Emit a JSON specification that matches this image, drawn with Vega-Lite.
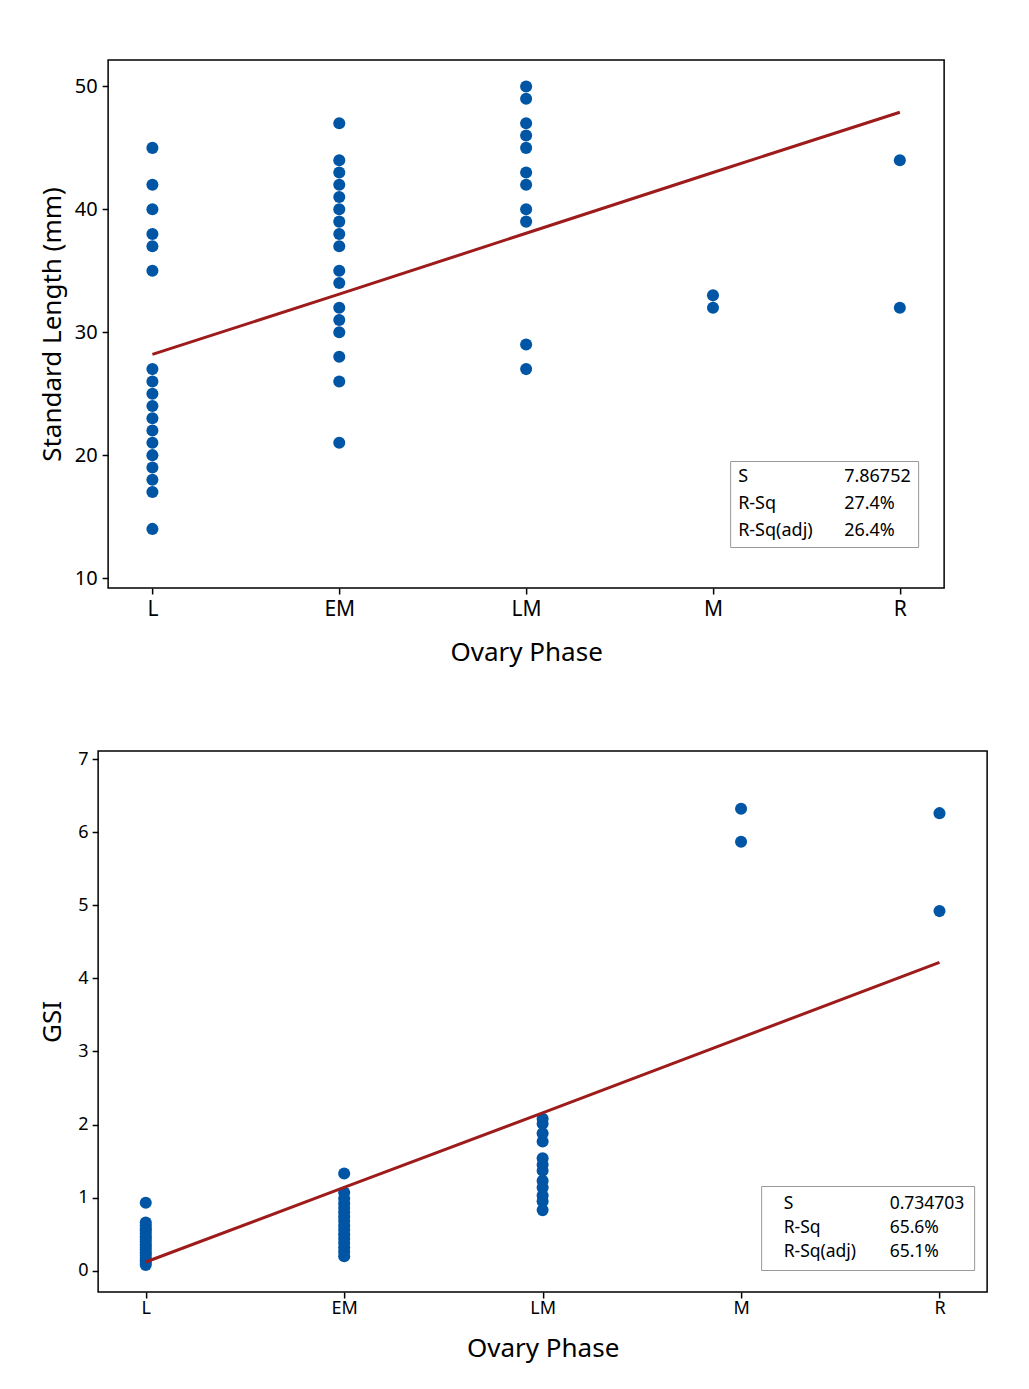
{
  "$schema": "https://vega.github.io/schema/vega-lite/v6.json",
  "padding": {"left": 38, "top": 59, "right": 5, "bottom": 5},
  "background": "white",
  "spacing": 83,
  "center": true,
  "bounds": "full",
  "config": {
    "font": "Noto Sans",
    "view": {"stroke": "black", "strokeWidth": 1.5},
    "axis": {"grid": false, "domain": false, "tickColor": "black", "tickWidth": 1.5, "tickSize": 6, "labelColor": "black", "titleColor": "black", "labelFont": "Noto Sans", "titleFont": "Noto Sans", "titleFontWeight": "normal", "titleFontSize": 26},
    "legend": {"labelFont": "Noto Sans", "labelColor": "black"}
  },
  "resolve": {"scale": {"shape": "independent"}, "legend": {"shape": "independent"}},
  "datasets": {
    "sl_points": [
      {"phase": "L", "sl": 45}, {"phase": "L", "sl": 42}, {"phase": "L", "sl": 40}, {"phase": "L", "sl": 38}, {"phase": "L", "sl": 37}, {"phase": "L", "sl": 35},
      {"phase": "L", "sl": 27}, {"phase": "L", "sl": 26}, {"phase": "L", "sl": 25}, {"phase": "L", "sl": 24}, {"phase": "L", "sl": 23}, {"phase": "L", "sl": 22},
      {"phase": "L", "sl": 21}, {"phase": "L", "sl": 20}, {"phase": "L", "sl": 19}, {"phase": "L", "sl": 18}, {"phase": "L", "sl": 17}, {"phase": "L", "sl": 14},
      {"phase": "EM", "sl": 47}, {"phase": "EM", "sl": 44}, {"phase": "EM", "sl": 43}, {"phase": "EM", "sl": 42}, {"phase": "EM", "sl": 41}, {"phase": "EM", "sl": 40},
      {"phase": "EM", "sl": 39}, {"phase": "EM", "sl": 38}, {"phase": "EM", "sl": 37}, {"phase": "EM", "sl": 35}, {"phase": "EM", "sl": 34}, {"phase": "EM", "sl": 32},
      {"phase": "EM", "sl": 31}, {"phase": "EM", "sl": 30}, {"phase": "EM", "sl": 28}, {"phase": "EM", "sl": 26}, {"phase": "EM", "sl": 21},
      {"phase": "LM", "sl": 50}, {"phase": "LM", "sl": 49}, {"phase": "LM", "sl": 47}, {"phase": "LM", "sl": 46}, {"phase": "LM", "sl": 45}, {"phase": "LM", "sl": 43},
      {"phase": "LM", "sl": 42}, {"phase": "LM", "sl": 40}, {"phase": "LM", "sl": 39}, {"phase": "LM", "sl": 29}, {"phase": "LM", "sl": 27},
      {"phase": "M", "sl": 33}, {"phase": "M", "sl": 32},
      {"phase": "R", "sl": 44}, {"phase": "R", "sl": 32}
    ],
    "sl_fit": [
      {"phase": "L", "fit": 28.2}, {"phase": "EM", "fit": 33.1}, {"phase": "LM", "fit": 38.05}, {"phase": "M", "fit": 43.0}, {"phase": "R", "fit": 47.9}
    ],
    "sl_stats": [
      {"item": "S"}, {"item": "R-Sq"}, {"item": "R-Sq(adj)"}, {"item": "7.86752"}, {"item": "27.4%"}, {"item": "26.4%"}
    ],
    "gsi_points": [
      {"phase": "L", "gsi": 0.93}, {"phase": "L", "gsi": 0.66}, {"phase": "L", "gsi": 0.62}, {"phase": "L", "gsi": 0.58}, {"phase": "L", "gsi": 0.55}, {"phase": "L", "gsi": 0.51},
      {"phase": "L", "gsi": 0.47}, {"phase": "L", "gsi": 0.44}, {"phase": "L", "gsi": 0.40}, {"phase": "L", "gsi": 0.36}, {"phase": "L", "gsi": 0.33}, {"phase": "L", "gsi": 0.29},
      {"phase": "L", "gsi": 0.25}, {"phase": "L", "gsi": 0.22}, {"phase": "L", "gsi": 0.18}, {"phase": "L", "gsi": 0.14}, {"phase": "L", "gsi": 0.11}, {"phase": "L", "gsi": 0.08},
      {"phase": "EM", "gsi": 1.33}, {"phase": "EM", "gsi": 1.07}, {"phase": "EM", "gsi": 0.99}, {"phase": "EM", "gsi": 0.92}, {"phase": "EM", "gsi": 0.86}, {"phase": "EM", "gsi": 0.80},
      {"phase": "EM", "gsi": 0.74}, {"phase": "EM", "gsi": 0.68}, {"phase": "EM", "gsi": 0.62}, {"phase": "EM", "gsi": 0.56}, {"phase": "EM", "gsi": 0.50}, {"phase": "EM", "gsi": 0.44},
      {"phase": "EM", "gsi": 0.38}, {"phase": "EM", "gsi": 0.32}, {"phase": "EM", "gsi": 0.26}, {"phase": "EM", "gsi": 0.20},
      {"phase": "LM", "gsi": 2.08}, {"phase": "LM", "gsi": 2.01}, {"phase": "LM", "gsi": 1.88}, {"phase": "LM", "gsi": 1.77}, {"phase": "LM", "gsi": 1.54}, {"phase": "LM", "gsi": 1.45},
      {"phase": "LM", "gsi": 1.37}, {"phase": "LM", "gsi": 1.23}, {"phase": "LM", "gsi": 1.14}, {"phase": "LM", "gsi": 1.03}, {"phase": "LM", "gsi": 0.95}, {"phase": "LM", "gsi": 0.83},
      {"phase": "M", "gsi": 6.32}, {"phase": "M", "gsi": 5.87},
      {"phase": "R", "gsi": 6.26}, {"phase": "R", "gsi": 4.92}
    ],
    "gsi_fit": [
      {"phase": "L", "fit": 0.12}, {"phase": "EM", "fit": 1.14}, {"phase": "LM", "fit": 2.16}, {"phase": "M", "fit": 3.19}, {"phase": "R", "fit": 4.22}
    ],
    "gsi_stats": [
      {"item": "S"}, {"item": "R-Sq"}, {"item": "R-Sq(adj)"}, {"item": "0.734703"}, {"item": "65.6%"}, {"item": "65.1%"}
    ]
  },
  "vconcat": [
    {
      "width": 836,
      "height": 528,
      "resolve": {"axis": {"y": "independent"}},
      "layer": [
        {
          "data": {"name": "sl_points"},
          "mark": {"type": "point", "filled": true, "size": 145, "opacity": 1, "color": "#0055A5"},
          "encoding": {
            "x": {"field": "phase", "type": "nominal", "scale": {"type": "point", "domain": ["L", "EM", "LM", "M", "R"], "padding": 0.237},
                  "axis": {"title": "Ovary Phase", "labelAngle": 0, "labelFontSize": 21, "labelPadding": 4, "titlePadding": 20}},
            "y": {"field": "sl", "type": "quantitative", "scale": {"domain": [9.19, 52.15], "nice": false, "zero": false},
                  "axis": {"title": "Standard Length (mm)", "values": [10, 20, 30, 40, 50], "format": "d", "labelFontSize": 20, "labelPadding": 5, "minExtent": 33, "maxExtent": 33, "titlePadding": 10}}
          }
        },
        {
          "data": {"name": "sl_fit"},
          "mark": {"type": "line", "color": "#9E1B1B", "strokeWidth": 3},
          "encoding": {
            "x": {"field": "phase", "type": "nominal"},
            "y": {"field": "fit", "type": "quantitative",
                  "axis": {"orient": "right", "title": null, "labels": false, "domain": false, "grid": false, "values": [30], "tickSize": 33, "tickOpacity": 0}}
          }
        },
        {
          "data": {"name": "sl_stats"},
          "mark": {"type": "point", "opacity": 0},
          "encoding": {
            "shape": {"field": "item", "type": "nominal", "scale": {"domain": ["S", "R-Sq", "R-Sq(adj)", "7.86752", "27.4%", "26.4%"]},
                      "legend": {"title": null, "orient": "none", "legendX": 622, "legendY": 401, "columns": 2, "symbolSize": 0, "symbolStrokeWidth": 0, "labelOffset": -17,
                                 "labelFontSize": 18, "rowPadding": 9, "columnPadding": 30, "padding": 7, "strokeColor": "#999999", "fillColor": "white", "gridAlign": "each", "labelLimit": 300}}
          }
        }
      ]
    },
    {
      "width": 889,
      "height": 541,
      "layer": [
        {
          "data": {"name": "gsi_points"},
          "mark": {"type": "point", "filled": true, "size": 145, "opacity": 1, "color": "#0055A5"},
          "encoding": {
            "x": {"field": "phase", "type": "nominal", "scale": {"type": "point", "domain": ["L", "EM", "LM", "M", "R"], "padding": 0.24},
                  "axis": {"title": "Ovary Phase", "labelAngle": 0, "labelFontSize": 18, "labelPadding": 1, "titlePadding": 18}},
            "y": {"field": "gsi", "type": "quantitative", "scale": {"domain": [-0.29, 7.11], "nice": false, "zero": false},
                  "axis": {"title": "GSI", "values": [0, 1, 2, 3, 4, 5, 6, 7], "format": "d", "labelFontSize": 18, "labelPadding": 4, "minExtent": 22, "maxExtent": 22, "titlePadding": 11}}
          }
        },
        {
          "data": {"name": "gsi_fit"},
          "mark": {"type": "line", "color": "#9E1B1B", "strokeWidth": 3},
          "encoding": {
            "x": {"field": "phase", "type": "nominal"},
            "y": {"field": "fit", "type": "quantitative"}
          }
        },
        {
          "data": {"name": "gsi_stats"},
          "mark": {"type": "point", "opacity": 0},
          "encoding": {
            "shape": {"field": "item", "type": "nominal", "scale": {"domain": ["S", "R-Sq", "R-Sq(adj)", "0.734703", "65.6%", "65.1%"]},
                      "legend": {"title": null, "orient": "none", "legendX": 663, "legendY": 435, "columns": 2, "symbolSize": 0, "symbolStrokeWidth": 0, "labelOffset": -4,
                                 "labelFontSize": 17.5, "rowPadding": 5, "columnPadding": 20, "padding": 9, "strokeColor": "#999999", "fillColor": "white", "gridAlign": "each", "labelLimit": 300}}
          }
        }
      ]
    }
  ]
}
